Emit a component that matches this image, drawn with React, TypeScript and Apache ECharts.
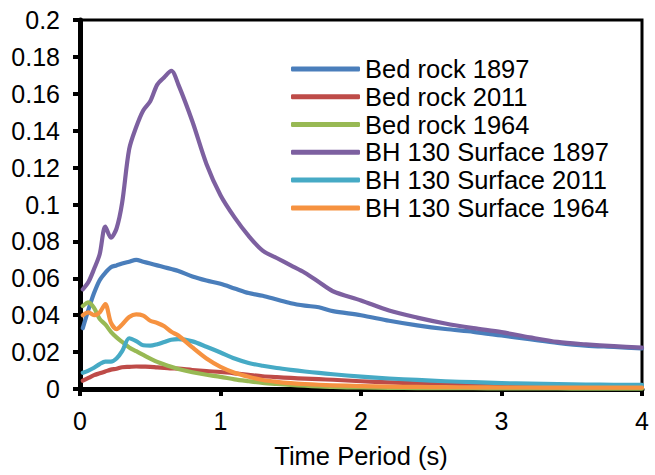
import React, { useEffect, useRef } from "react";
import * as echarts from "echarts";

const periods = [0.02, 0.06, 0.1, 0.14, 0.18, 0.22, 0.26, 0.3, 0.35, 0.4, 0.45, 0.5, 0.55, 0.6, 0.65, 0.7, 0.8, 0.9, 1.0, 1.1, 1.2, 1.3, 1.4, 1.5, 1.6, 1.7, 1.8, 2.0, 2.2, 2.4, 2.6, 2.8, 3.0, 3.2, 3.4, 3.6, 3.8, 4.0];

const bedRock1897 = [0.033, 0.043, 0.052, 0.059, 0.063, 0.066, 0.067, 0.068, 0.069, 0.07, 0.069, 0.068, 0.067, 0.066, 0.065, 0.064, 0.061, 0.0588, 0.057, 0.0545, 0.052, 0.0505, 0.0485, 0.0465, 0.0452, 0.0443, 0.0422, 0.04, 0.037, 0.0345, 0.0325, 0.031, 0.029, 0.027, 0.025, 0.0235, 0.0228, 0.022];
const bedRock2011 = [0.0045, 0.006, 0.0075, 0.0085, 0.0095, 0.0105, 0.011, 0.0118, 0.012, 0.0122, 0.0121, 0.012, 0.0117, 0.0115, 0.0112, 0.011, 0.0103, 0.0097, 0.0092, 0.0085, 0.0077, 0.0069, 0.0064, 0.006, 0.0056, 0.0053, 0.005, 0.0042, 0.0036, 0.003, 0.0026, 0.0022, 0.002, 0.0017, 0.0015, 0.0014, 0.0013, 0.0012];
const bedRock1964 = [0.045, 0.047, 0.044, 0.038, 0.035, 0.031, 0.028, 0.0255, 0.0225, 0.0205, 0.0185, 0.0165, 0.0147, 0.0133, 0.012, 0.0108, 0.0091, 0.0077, 0.0066, 0.0052, 0.0042, 0.0033, 0.0027, 0.0022, 0.0018, 0.0014, 0.0011, 0.0008, 0.0006, 0.0005, 0.0004, 0.0004, 0.0003, 0.0003, 0.0003, 0.0002, 0.0002, 0.0002];
const surface1897 = [0.054, 0.058, 0.065, 0.073, 0.088, 0.082, 0.087, 0.101, 0.13, 0.142, 0.151, 0.156, 0.165, 0.169, 0.1725, 0.165, 0.145, 0.122, 0.105, 0.093, 0.083, 0.075, 0.071, 0.067, 0.063, 0.058, 0.053, 0.048, 0.0425, 0.0387, 0.0355, 0.033, 0.0308, 0.028, 0.0255, 0.0242, 0.0232, 0.0224];
const surface2011 = [0.0088, 0.01, 0.0115, 0.0135, 0.0148, 0.0148, 0.0165, 0.0205, 0.0275, 0.026, 0.0237, 0.0235, 0.0243, 0.0255, 0.0267, 0.027, 0.0258, 0.0229, 0.0198, 0.0165, 0.0141, 0.0126, 0.0114, 0.0104, 0.0095, 0.0087, 0.008, 0.0067, 0.0057, 0.0049, 0.0042, 0.0037, 0.0032, 0.0029, 0.0026, 0.0024, 0.0023, 0.0022];
const surface1964 = [0.04, 0.0415, 0.04, 0.0415, 0.046, 0.036, 0.0325, 0.035, 0.039, 0.0405, 0.0398, 0.037, 0.0358, 0.034, 0.031, 0.029, 0.0225, 0.0165, 0.012, 0.0088, 0.0066, 0.0049, 0.0039, 0.0032, 0.0027, 0.0023, 0.002, 0.0016, 0.0013, 0.0011, 0.001, 0.0009, 0.0008, 0.0008, 0.0007, 0.0007, 0.0007, 0.0007];

const seriesNames = ["Bed rock 1897", "Bed rock 2011", "Bed rock 1964", "BH 130 Surface 1897", "BH 130 Surface 2011", "BH 130 Surface 1964"];
const seriesValues = [bedRock1897, bedRock2011, bedRock1964, surface1897, surface2011, surface1964];
const seriesColors = ["#4A7EBB", "#BE4B48", "#98B954", "#7D60A0", "#46AAC5", "#F69240"];

const FONT = "Liberation Sans, Arial, sans-serif";

export default function App() {
  const ref = useRef<HTMLDivElement>(null);
  useEffect(() => {
    document.body.style.margin = "0";
    const chart = echarts.init(ref.current!, null, { renderer: "svg" });
    chart.setOption({
      animation: false,
      grid: { left: 80, right: 13, top: 20, bottom: 86, show: true, borderColor: "#000", borderWidth: 3, containLabel: false },
      legend: {
        orient: "vertical",
        left: 286,
        top: 50,
        itemWidth: 69,
        itemHeight: 5,
        itemGap: 0,
        icon: "roundRect",
        textStyle: { fontSize: 25.5, lineHeight: 27.8, color: "#000", fontFamily: FONT },
        data: seriesNames,
      },
      xAxis: {
        type: "value",
        min: 0,
        max: 4,
        interval: 1,
        name: "Time Period (s)",
        nameLocation: "middle",
        nameGap: 54,
        nameTextStyle: { fontSize: 25.5, color: "#000", fontFamily: FONT },
        axisLine: { show: true, onZero: false, lineStyle: { color: "#000", width: 5 } },
        axisTick: { show: true, inside: false, length: 7, lineStyle: { color: "#000", width: 4 } },
        axisLabel: { fontSize: 25, color: "#000", fontFamily: FONT, margin: 19 },
        splitLine: { show: false },
      },
      yAxis: {
        type: "value",
        min: 0,
        max: 0.2,
        interval: 0.02,
        axisLine: { show: true, lineStyle: { color: "#000", width: 5 } },
        axisTick: { show: true, inside: false, length: 7, lineStyle: { color: "#000", width: 4 } },
        axisLabel: {
          fontSize: 25,
          color: "#000",
          fontFamily: FONT,
          margin: 20,
          formatter: (v: number) => String(parseFloat(v.toFixed(2))),
        },
        splitLine: { show: false },
      },
      series: seriesNames.map((name, i) => ({
        name,
        type: "line",
        showSymbol: false,
        symbol: "none",
        smooth: 0.3,
        color: seriesColors[i],
        lineStyle: { width: 4.2, color: seriesColors[i], cap: "round", join: "round" },
        data: periods.map((p, j) => [p, seriesValues[i][j]]),
      })),
    });
    return () => chart.dispose();
  }, []);
  return <div ref={ref} style={{ width: 655, height: 475 }} />;
}
